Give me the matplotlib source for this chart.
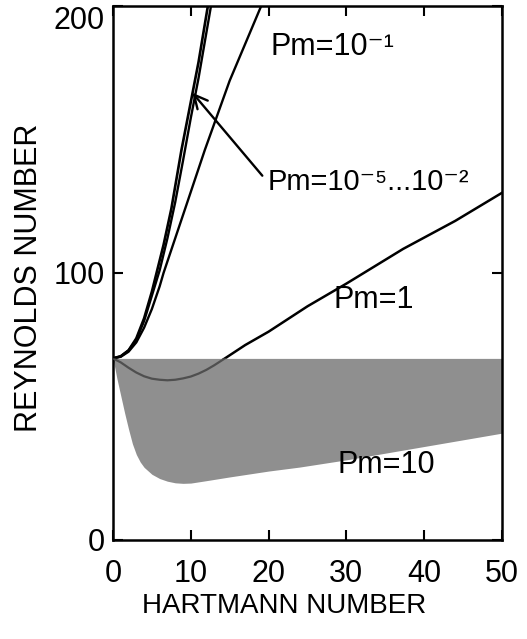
import numpy as np
import matplotlib.pyplot as plt

plt.rcParams['font.family'] = ['Liberation Sans', 'DejaVu Sans']

# Pm = 1e-5 ... 1e-2 (curvas casi superpuestas)
ha_small_a = [0, 1, 2, 3, 4, 5, 5.6, 6.5, 7.5, 8.8, 10, 11, 12.2, 12.8]
re_small_a = [68, 68.8, 71, 75.5, 83, 93, 100, 110.5, 124, 146, 164, 179, 200, 209]
ha_small_b = [0, 1, 2, 3, 4, 5, 6, 7, 8, 9, 10, 11, 12.6, 13.2]
re_small_b = [68, 68.8, 71, 75, 82, 91.5, 101, 113, 126.5, 142, 158, 173, 200, 209]

# Pm = 0.1
ha_01 = [0, 1, 2, 3, 4, 5, 6, 6.5, 8, 9.5, 11.8, 15, 19.2, 20]
re_01 = [68, 68.6, 70.5, 74, 79.5, 86.5, 95, 100, 113, 126, 146, 172, 201, 207]

# Pm = 1
ha_1 = [0, 1, 2, 3, 4, 5, 6, 7, 8, 9, 10, 11, 12, 13, 14.6, 17, 20, 25, 30, 37.3, 44, 50]
re_1 = [68, 66.5, 64.5, 62.7, 61.3, 60.4, 60, 59.8, 60, 60.5, 61.2, 62.3, 63.7, 65.4, 68.4,
        73, 78, 87.5, 96, 109, 119.5, 130]

# Pm = 10 (borde inferior de la zona sombreada)
ha_10 = [0, 0.5, 1, 1.5, 2, 2.5, 3, 3.5, 4, 5, 6, 7, 8, 9, 10, 12, 15, 20, 24, 30, 40, 50]
re_10 = [68, 60.5, 54, 47.5, 41.5, 36, 32, 29.2, 27.2, 24.6, 23, 22, 21.4, 21.2, 21.3,
         22.2, 23.6, 25.8, 27.3, 30, 35, 40]
re_top = 68

fig = plt.figure(figsize=(5.27, 6.39), dpi=100)
ax = fig.add_axes([0.2144, 0.155, 0.738, 0.8357])

ax.plot(ha_small_a, re_small_a, color='black', lw=1.9)
ax.plot(ha_small_b, re_small_b, color='black', lw=1.7)
ax.plot(ha_01, re_01, color='black', lw=1.7)
ax.plot(ha_1, re_1, color='black', lw=1.8, zorder=1)

fill = ax.fill_between(ha_10, re_10, re_top, color='#8f8f8f', lw=0, zorder=2)
inner, = ax.plot(ha_1, re_1, color='#4f4f4f', lw=1.6, zorder=3)
inner.set_clip_path(fill.get_paths()[0], ax.transData)

ax.annotate('Pm=10⁻⁵...10⁻²', xy=(10.2, 167.5), xytext=(19.9, 134),
            fontsize=21, ha='left', va='center',
            arrowprops=dict(arrowstyle='->', color='black', lw=1.7,
                            mutation_scale=24, shrinkA=3, shrinkB=0, relpos=(0, 0.5)))
ax.text(20.2, 184.5, 'Pm=10⁻¹', fontsize=22, ha='left', va='center')
ax.text(28.3, 90, 'Pm=1', fontsize=22, ha='left', va='center')
ax.text(28.9, 28, 'Pm=10', fontsize=22, ha='left', va='center')

ax.set_xlim(0, 50)
ax.set_ylim(0, 200)
ax.set_xticks([0, 10, 20, 30, 40, 50])
ax.set_yticks([0, 100, 200])
ax.tick_params(direction='in', length=7, width=1.5, top=True, right=True,
               labelsize=22, pad=6)
ax.tick_params(axis='x', pad=14)
ax.get_yticklabels()[-1].set_va('top')
for s in ax.spines.values():
    s.set_linewidth(1.8)

ax.set_xlabel('HARTMANN NUMBER', fontsize=20)
ax.xaxis.set_label_coords(0.44, -0.10)
ax.set_ylabel('REYNOLDS NUMBER', fontsize=22)
ax.yaxis.set_label_coords(-0.178, 0.49)

fig.savefig('out.png', dpi=100)
